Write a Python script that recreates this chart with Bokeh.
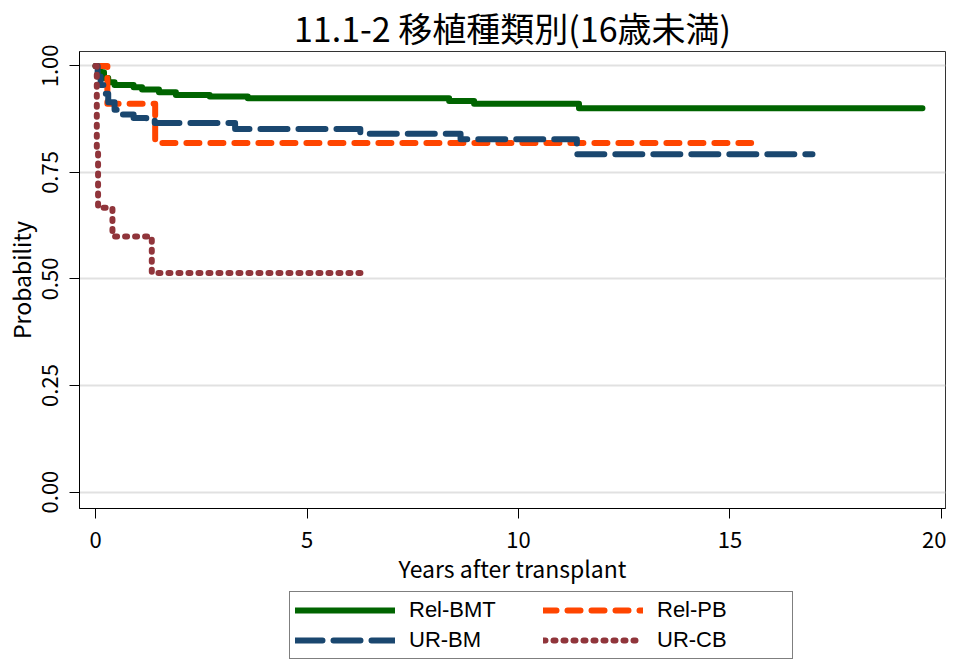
from bokeh.plotting import figure
from bokeh.layouts import column
from bokeh.models import Legend, LegendItem, FixedTicker, NumeralTickFormatter, Range1d
from bokeh.embed import file_html
from bokeh.resources import INLINE

FONT = "Noto Sans CJK JP"
LEG_FONT = "Liberation Sans"

title_text = "11.1-2 移植種類別(16歳未満)"
x_label = "Years after transplant"
y_label = "Probability"

x_ticks = [0, 5, 10, 15, 20]
y_ticks = [0.0, 0.25, 0.5, 0.75, 1.0]

series_names = ["Rel-BMT", "Rel-PB", "UR-BM", "UR-CB"]

relbmt_t = [0, 0.1, 0.2, 0.3, 0.45, 0.9, 1.1, 1.5, 1.9, 2.7, 3.6, 8.36, 8.95, 11.43, 19.55]
relbmt_s = [1.0, 0.985, 0.972, 0.962, 0.955, 0.95, 0.945, 0.938, 0.932, 0.928, 0.924, 0.918, 0.911, 0.901, 0.901]

relpb_t = [0, 0.28, 1.41, 15.5]
relpb_s = [1.0, 0.911, 0.819, 0.819]

urbm_t = [0, 0.05, 0.12, 0.2, 0.3, 0.45, 0.6, 0.9, 1.2, 1.4, 3.3, 6.26, 8.63, 11.38, 16.95]
urbm_s = [1.0, 0.975, 0.955, 0.935, 0.915, 0.897, 0.886, 0.878, 0.872, 0.866, 0.852, 0.841, 0.828, 0.793, 0.793]

urcb_t = [0, 0.03, 0.06, 0.4, 1.33, 6.39]
urcb_s = [1.0, 0.8, 0.667, 0.6, 0.514, 0.514]

p = figure(width=946, height=590, output_backend="svg", toolbar_location=None,
           x_range=Range1d(-0.379, 20.095), y_range=Range1d(-0.0386, 1.0339),
           min_border_left=68, min_border_right=1, min_border_top=40, min_border_bottom=82)

p.title.text = title_text
p.title.align = "center"
p.title.text_font = FONT
p.title.text_font_size = "34px"
p.title.text_font_style = "normal"
p.title.text_color = "black"
p.title.standoff = 0

p.outline_line_color = "#333333"
p.outline_line_width = 1
p.background_fill_color = "white"
p.border_fill_color = "white"

p.xgrid.visible = False
p.ygrid.ticker = FixedTicker(ticks=y_ticks)
p.ygrid.grid_line_color = "#e1e1e1"
p.ygrid.grid_line_width = 2

for ax in (p.xaxis[0], p.yaxis[0]):
    ax.axis_line_color = "black"
    ax.axis_line_width = 1
    ax.major_tick_line_color = "black"
    ax.major_tick_out = 10
    ax.major_tick_in = 0
    ax.minor_tick_line_color = None
    ax.major_label_text_font = FONT
    ax.major_label_text_font_size = "22px"
    ax.major_label_text_color = "black"
    ax.axis_label_text_font = FONT
    ax.axis_label_text_font_size = "23px"
    ax.axis_label_text_font_style = "normal"
    ax.axis_label_text_color = "black"

p.xaxis.ticker = FixedTicker(ticks=x_ticks)
p.xaxis.axis_label = x_label
p.xaxis.major_label_standoff = 13
p.xaxis.axis_label_standoff = 0

p.yaxis.ticker = FixedTicker(ticks=y_ticks)
p.yaxis.formatter = NumeralTickFormatter(format="0.00")
p.yaxis.major_label_orientation = "vertical"
p.yaxis.axis_label = y_label
p.yaxis.major_label_standoff = 11
p.yaxis.axis_label_standoff = 2

styles = [
    ("#006400", "solid"),
    ("#ff4500", "13 11"),
    ("#1a476f", "27 11"),
    ("#90353b", "2 8"),
]
series_t = [relbmt_t, relpb_t, urbm_t, urcb_t]
series_s = [relbmt_s, relpb_s, urbm_s, urcb_s]
for t, s, (c, d) in zip(series_t, series_s, styles):
    p.step(t, s, mode="after", line_color=c, line_width=6, line_dash=d,
           line_cap="round", line_join="round")

# legend panel underneath the chart (its key renderers sit outside its view)
pl = figure(width=946, height=69, output_backend="svg", toolbar_location=None,
            x_range=Range1d(100, 101), y_range=Range1d(100, 101),
            x_axis_location=None, y_axis_location=None,
            min_border_left=68, min_border_right=1, min_border_top=0, min_border_bottom=0)
pl.grid.visible = False
pl.outline_line_color = None
pl.border_fill_color = "white"
keys = []
for t, s, (c, d) in zip(series_t, series_s, styles):
    keys.append(pl.step(t, s, mode="after", line_color=c, line_width=6, line_dash=d, line_cap="round"))

order = [0, 2, 1, 3]
items = [LegendItem(label=series_names[i], renderers=[keys[i]]) for i in order]
legend = Legend(items=items, ncols=2, location=(210, 0),
                label_text_font=LEG_FONT, label_text_font_size="22px", label_text_color="black",
                glyph_width=100, glyph_height=26, label_standoff=14, spacing=4, label_width=130,
                padding=5, margin=0, border_line_color="black", border_line_width=1,
                background_fill_alpha=1.0)
pl.add_layout(legend, "center")

layout = column(p, pl, spacing=0)
open("out.html", "w").write(file_html(layout, INLINE))
